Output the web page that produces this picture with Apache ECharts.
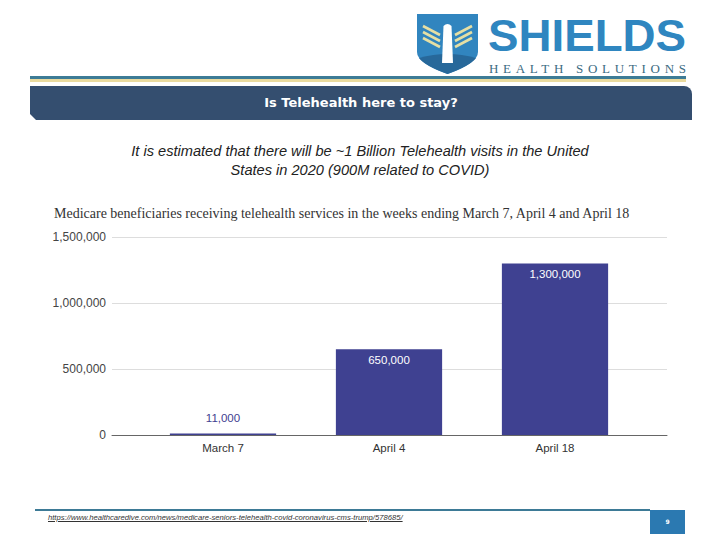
<!DOCTYPE html>
<html>
<head>
<meta charset="utf-8">
<script src="https://cdn.jsdelivr.net/npm/echarts@6/dist/echarts.min.js"></script>
<style>
  html, body { margin: 0; padding: 0; background: #fff; }
  #page { position: relative; width: 720px; height: 540px; overflow: hidden; background: #fff; }
  #chart { position: absolute; left: 0; top: 0; width: 720px; height: 540px; }
  .deco { position: absolute; pointer-events: none; }
  #lineTeal { left: 30px; top: 76px; width: 656px; height: 2.5px; background: #3d7c96; }
  #lineGold { left: 30px; top: 79px; width: 656px; height: 3px; background: #eadb9f; }
  #header { left: 30px; top: 86px; width: 662px; height: 34px; background: #344e6f;
            border-top-right-radius: 8px;
            clip-path: polygon(0 0, 100% 0, 100% 100%, 6px 100%, 0 calc(100% - 6px));
            color: #fff; font: bold 13px "DejaVu Sans", sans-serif; text-align: center; line-height: 34px; }
  #subtitle { left: 60px; top: 142px; width: 600px; text-align: center; color: #222;
              font: italic 14.6px "Liberation Sans", sans-serif; line-height: 19px; }
  #footLine { left: 35px; top: 509px; width: 615px; height: 1.5px; background: #3d7a96; }
  #url { left: 48px; top: 513px; color: #333; font: italic 7.65px "Liberation Sans", sans-serif; text-decoration: underline; white-space: nowrap; }
  #pageBox { left: 650px; top: 510px; width: 35px; height: 24px; background: #2b79b1; color: #fff;
             font: bold 6px "DejaVu Sans", sans-serif; text-align: center; line-height: 24px; }
  #logo { left: 0; top: 0; }
</style>
</head>
<body>
<div id="page">
  <div id="chart"></div>
  <svg id="logo" class="deco" width="720" height="86" viewBox="0 0 720 86">
    <path d="M417,14 L478,14 L478,52 Q478,63 447.5,74 Q417,63 417,52 Z" fill="#3185bf"/>
    <path d="M419,58 Q447.5,50 476,58 Q470,66 447.5,74 Q425,66 419,58 Z" fill="#27689a"/>
    <g stroke="#e6dfa4" stroke-width="2.6" fill="none">
      <path d="M423,26 L440,35"/>
      <path d="M423,32 L440,41"/>
      <path d="M423,38 L440,47"/>
      <path d="M472,26 L455,35"/>
      <path d="M472,32 L455,41"/>
      <path d="M472,38 L455,47"/>
    </g>
    <path d="M443.5,26 Q447.5,22 451.5,26 L453,63 L442,63 Z" fill="#ffffff"/>
    <text x="488" y="50.5" textLength="198" lengthAdjust="spacingAndGlyphs"
          font-family="Liberation Sans" font-weight="bold" font-size="45" fill="#2f86c0">SHIELDS</text>
    <text x="489" y="72.5" textLength="197" lengthAdjust="spacing"
          font-family="Liberation Serif" font-size="13" fill="#3b6b82">HEALTH SOLUTIONS</text>
  </svg>
  <div id="lineTeal" class="deco"></div>
  <div id="lineGold" class="deco"></div>
  <div id="header" class="deco">Is Telehealth here to stay?</div>
  <div id="subtitle" class="deco">It is estimated that there will be ~1 Billion Telehealth visits in the United<br>States in 2020 (900M related to COVID)</div>
  <div id="footLine" class="deco"></div>
  <div id="url" class="deco">https://www.healthcaredive.com/news/medicare-seniors-telehealth-covid-coronavirus-cms-trump/578685/</div>
  <div id="pageBox" class="deco">9</div>
</div>
<script>
  const chartTitle = 'Medicare beneficiaries receiving telehealth services in the weeks ending March 7, April 4 and April 18';
  const categories = ['March 7', 'April 4', 'April 18'];
  const beneficiaries = [11000, 650000, 1300000];
  const yTicks = [0, 500000, 1000000, 1500000];

  const barColor = '#3f4191';
  const fmt = v => v.toLocaleString('en-US');
  const yMin = yTicks[0], yMax = yTicks[yTicks.length - 1], yStep = yTicks[1] - yTicks[0];

  const seriesData = beneficiaries.map((v, i) => ({
    value: v,
    label: i === 0
      ? { position: 'top', distance: 10, color: barColor }
      : { position: 'insideTop', distance: 5, color: '#ffffff' }
  }));

  const chart = echarts.init(document.getElementById('chart'), null, { renderer: 'svg' });
  chart.setOption({
    animation: false,
    backgroundColor: 'transparent',
    title: {
      text: chartTitle,
      left: 54, top: 206, padding: 0,
      textStyle: { fontFamily: 'Liberation Serif', fontSize: 14, fontWeight: 'normal', color: '#333' }
    },
    grid: [
      { left: 112, right: 53, top: 237, bottom: 105, containLabel: false },
      { left: 140, right: 82, top: 237, bottom: 105, containLabel: false }
    ],
    xAxis: [
      {
        gridIndex: 0, type: 'value', min: 0, max: 1,
        axisLabel: { show: false }, axisTick: { show: false }, splitLine: { show: false },
        axisLine: { show: true, onZero: false, lineStyle: { color: '#666', width: 1 } }
      },
      {
        gridIndex: 1, type: 'category', data: categories,
        axisTick: { show: false },
        axisLine: { show: false },
        axisLabel: { margin: 7, fontFamily: 'Liberation Sans', fontSize: 11.5, color: '#333' }
      }
    ],
    yAxis: [
      {
        gridIndex: 0, type: 'value', min: yMin, max: yMax, interval: yStep,
        axisLine: { show: false }, axisTick: { show: false },
        splitLine: { lineStyle: { color: '#dddddd', width: 1 } },
        axisLabel: { margin: 6, fontFamily: 'Liberation Sans', fontSize: 12, color: '#444', formatter: v => fmt(v) }
      },
      {
        gridIndex: 1, type: 'value', min: yMin, max: yMax, interval: yStep,
        axisLine: { show: false }, axisTick: { show: false },
        splitLine: { show: false }, axisLabel: { show: false }
      }
    ],
    series: [{
      type: 'bar',
      xAxisIndex: 1, yAxisIndex: 1,
      data: seriesData,
      barWidth: '64%',
      itemStyle: { color: barColor },
      label: { show: true, fontFamily: 'Liberation Sans', fontSize: 11.5, formatter: p => fmt(p.value) }
    }]
  });
</script>
</body>
</html>
